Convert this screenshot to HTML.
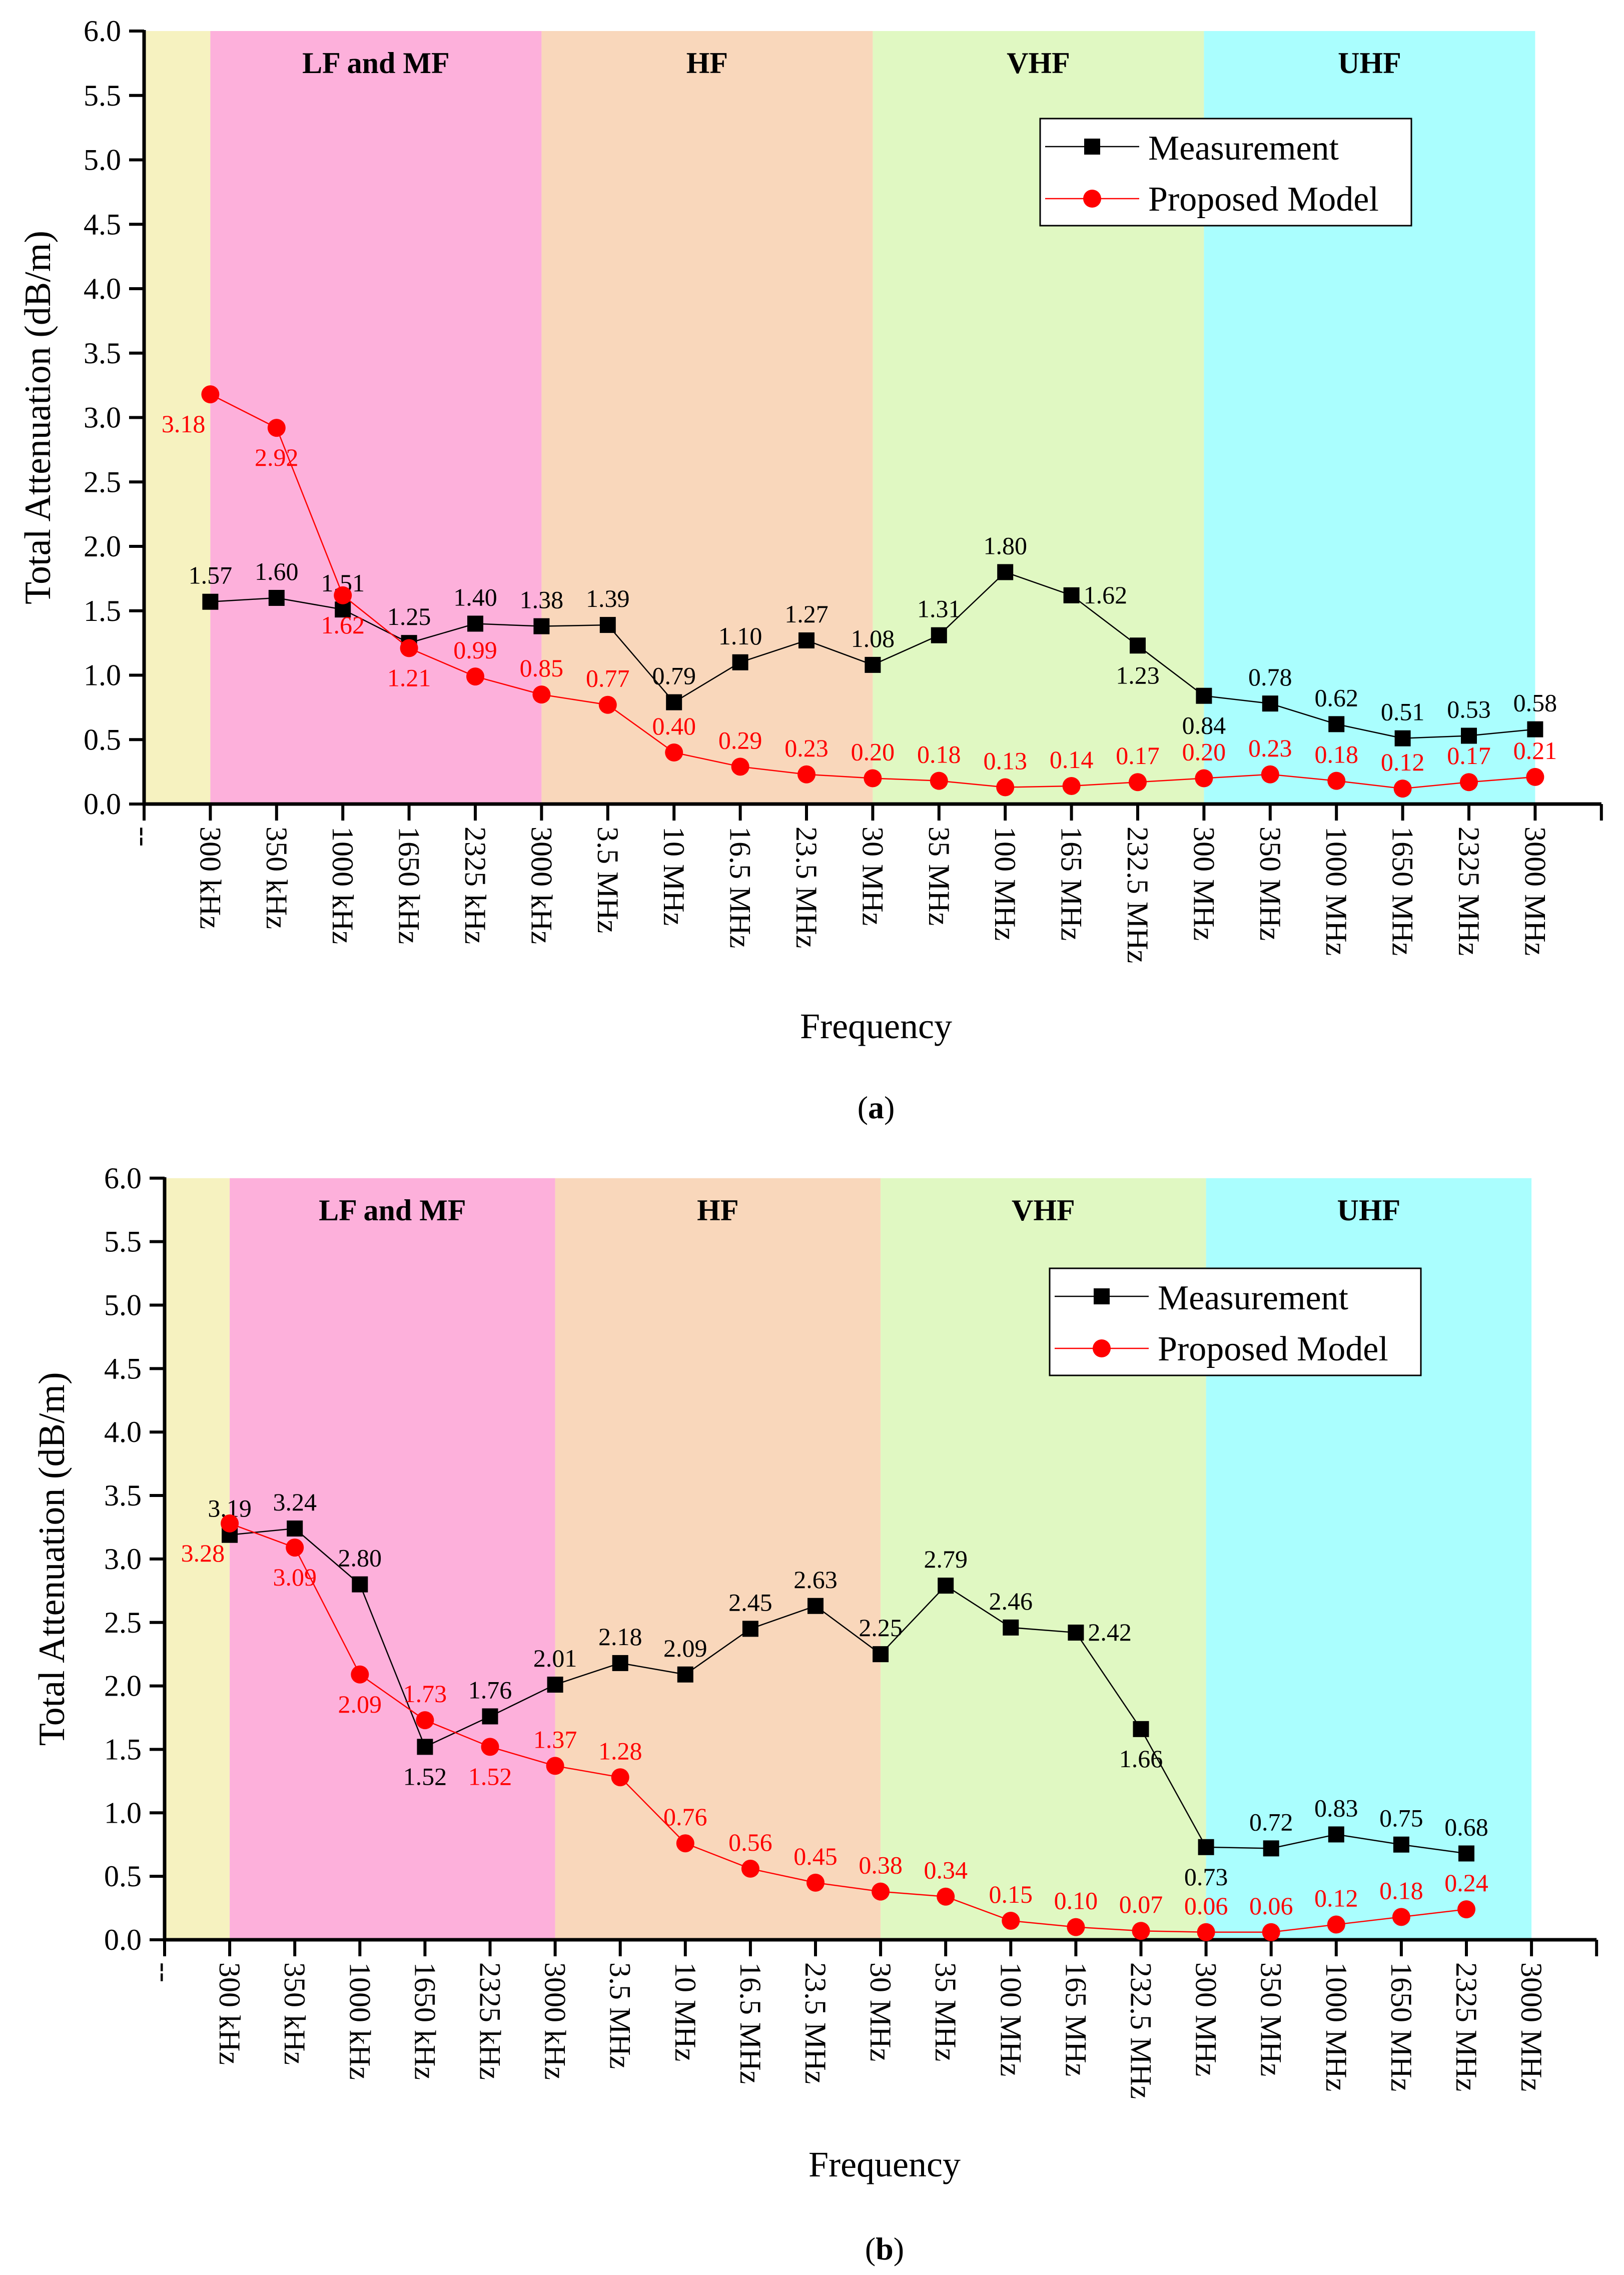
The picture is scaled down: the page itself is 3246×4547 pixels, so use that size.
<!DOCTYPE html>
<html><head><meta charset="utf-8"><style>
html,body{margin:0;padding:0;background:#fff;}
svg{display:block;}
text{font-family:"Liberation Serif",serif;}
</style></head><body>
<svg id="root" xmlns="http://www.w3.org/2000/svg" width="3246" height="4547" viewBox="0 0 3246 4547"></svg>
<script>
const categories = ["--","300 kHz","350 kHz","1000 kHz","1650 kHz","2325 kHz","3000 kHz","3.5 MHz","10 MHz","16.5 MHz","23.5 MHz","30 MHz","35 MHz","100 MHz","165 MHz","232.5 MHz","300 MHz","350 MHz","1000 MHz","1650 MHz","2325 MHz","3000 MHz"];
const yTicks = ["0.0","0.5","1.0","1.5","2.0","2.5","3.0","3.5","4.0","4.5","5.0","5.5","6.0"];
const bandNames = ["","LF and MF","HF","VHF","UHF"];
const bandEdges = [0,1,6,11,16,21];
const measA = [1.57,1.60,1.51,1.25,1.40,1.38,1.39,0.79,1.10,1.27,1.08,1.31,1.80,1.62,1.23,0.84,0.78,0.62,0.51,0.53,0.58];
const modelA = [3.18,2.92,1.62,1.21,0.99,0.85,0.77,0.40,0.29,0.23,0.20,0.18,0.13,0.14,0.17,0.20,0.23,0.18,0.12,0.17,0.21];
const measB = [3.19,3.24,2.80,1.52,1.76,2.01,2.18,2.09,2.45,2.63,2.25,2.79,2.46,2.42,1.66,0.73,0.72,0.83,0.75,0.68];
const modelB = [3.28,3.09,2.09,1.73,1.52,1.37,1.28,0.76,0.56,0.45,0.38,0.34,0.15,0.10,0.07,0.06,0.06,0.12,0.18,0.24];
// label placement codes (a=above, b=below, r=right, l=left-below)
const measAPos = "aaaaaaaaaaaaarbbaaaaa";
const modelAPos = "lbbbaaaaaaaaaaaaaaaaa";
const measBPos = "aaabaaaaaaaaarbbaaaa";
const modelBPos = "lbbabaaaaaaaaaaaaaaa";
const bandColors = ["#f6f2c0","#fdb0db","#f9d7bb","#e0f8c2","#aafefe"];

const NS = "http://www.w3.org/2000/svg";
const root = document.getElementById('root');
function mk(tag, attrs, parent){
  const e = document.createElementNS(NS, tag);
  for (const k in attrs) e.setAttribute(k, attrs[k]);
  (parent||root).appendChild(e);
  return e;
}

function drawChart(cfg){
  const g = mk('g', {});
  
  
  const x = i => cfg.x0 + i * cfg.dx;
  const y = v => cfg.y0 - v * cfg.unit;
  const yTop = y(6);
  for (let b = 0; b < bandColors.length; b++){
    const r = mk('rect', {x: x(bandEdges[b]), y: yTop, width: x(bandEdges[b+1]) - x(bandEdges[b]), height: cfg.y0 - yTop, fill: bandColors[b]}, g);
    
    
    if (bandNames[b]) {
      const t = mk('text', {x: (x(bandEdges[b]) + x(bandEdges[b+1])) / 2, y: yTop + 84, 'font-size': 60, 'font-weight': 'bold', 'text-anchor': 'middle'}, g);
      t.textContent = bandNames[b];
      
      
    }
  }
  const ax = mk('path', {d: `M${x(0)} ${yTop-2}V${cfg.y0}H${x(22)}`, stroke: '#000', 'stroke-width': 7, fill: 'none'}, g);
  
  
  for (let i = 0; i < yTicks.length; i++){
    const v = parseFloat(yTicks[i]);
    mk('line', {x1: x(0) - 30, x2: x(0), y1: y(v), y2: y(v), stroke: '#000', 'stroke-width': 6}, g);
    const t = mk('text', {x: x(0) - 46, y: y(v) + 20, 'font-size': 60, 'text-anchor': 'end'}, g);
    t.textContent = yTicks[i];
    
    
  }
  for (let i = 0; i <= 22; i++){
    mk('line', {x1: x(i), x2: x(i), y1: cfg.y0, y2: cfg.y0 + 33, stroke: '#000', 'stroke-width': 6}, g);
    if (i < categories.length) {
      const t = mk('text', {x: 0, y: 0, 'font-size': 60, transform: `translate(${x(i) - 20},${cfg.y0 + 45}) rotate(90)`}, g);
      t.textContent = categories[i];
      
      
    }
  }
  function series(vals, pos, color, shape, name, labelFont){
    const pts = vals.map((v, i) => `${x(i+1)},${y(v)}`).join(' ');
    const pl = mk('polyline', {points: pts, fill: 'none', stroke: color, 'stroke-width': 2.5}, g);
    
    
    vals.forEach((v, i) => {
      const cx = x(i+1), cy = y(v);
      let m;
      if (shape === 'sq') m = mk('rect', {x: cx - 16, y: cy - 16, width: 32, height: 32, fill: color}, g);
      else m = mk('circle', {cx: cx, cy: cy, r: 18, fill: color}, g);
      
      
      const p = pos[i];
      let lx = cx, ly = cy - 36, anc = 'middle';
      if (p === 'b') { ly = cy + 76; }
      if (p === 'r') { lx = cx + 24; ly = cy + 16; anc = 'start'; }
      if (p === 'l') { lx = cx - 10; ly = cy + 76; anc = 'end'; }
      const t = mk('text', {x: lx, y: ly, 'font-size': 50, fill: color, 'text-anchor': anc, 'font-family': labelFont}, g);
      t.textContent = v.toFixed(2);
      
      
    });
  }
  series(cfg.meas, cfg.measPos, '#000', 'sq', 'measurement', '"Liberation Serif", serif');
  series(cfg.model, cfg.modelPos, '#ff0000', 'ci', 'proposed-model', cfg.redFont);
  const L = cfg.legend;
  const lg = mk('g', {}, g);
  
  
  mk('rect', {x: L.x, y: L.y, width: 742, height: 214, fill: '#fff', stroke: '#000', 'stroke-width': 3}, lg);
  mk('line', {x1: L.x + 10, x2: L.x + 198, y1: L.y + 56, y2: L.y + 56, stroke: '#000', 'stroke-width': 2.5}, lg);
  mk('rect', {x: L.x + 88, y: L.y + 40, width: 32, height: 32, fill: '#000'}, lg);
  mk('line', {x1: L.x + 10, x2: L.x + 198, y1: L.y + 160, y2: L.y + 160, stroke: '#f00', 'stroke-width': 2.5}, lg);
  mk('circle', {cx: L.x + 104, cy: L.y + 160, r: 18, fill: '#f00'}, lg);
  const t1 = mk('text', {x: L.x + 216, y: L.y + 82, 'font-size': 70}, lg);
  t1.textContent = 'Measurement';
  
  
  const t2 = mk('text', {x: L.x + 216, y: L.y + 184, 'font-size': 70}, lg);
  t2.textContent = 'Proposed Model';
  
  
  const yt = mk('text', {x: 0, y: 0, 'font-size': 74, 'text-anchor': 'middle', transform: `translate(${cfg.ytx},${(yTop + cfg.y0)/2}) rotate(-90)`}, g);
  yt.textContent = 'Total Attenuation (dB/m)';
  
  
  const xt = mk('text', {x: cfg.xtx, y: cfg.xty, 'font-size': 72, 'text-anchor': 'middle'}, g);
  xt.textContent = 'Frequency';
  
  
  const cap = mk('text', {x: cfg.xtx, y: cfg.capy, 'font-size': 64, 'text-anchor': 'middle'}, g);
  cap.innerHTML = '(<tspan font-weight="bold">' + cfg.cap + '</tspan>)';
  
  
}

drawChart({name: 'chart-a', x0: 288, dx: 132.4, y0: 1607, unit: 257.5, meas: measA, model: modelA, measPos: measAPos, modelPos: modelAPos,
  redFont: '"Liberation Sans", sans-serif', legend: {x: 2079, y: 237}, ytx: 100, xtx: 1751, xty: 2075, cap: 'a', capy: 2235});
drawChart({name: 'chart-b', x0: 329, dx: 130.1, y0: 3877, unit: 253.7, meas: measB, model: modelB, measPos: measBPos, modelPos: modelBPos,
  redFont: '"Liberation Serif", serif', legend: {x: 2098, y: 2535}, ytx: 128, xtx: 1768, xty: 4350, cap: 'b', capy: 4516});
</script>
</body></html>
